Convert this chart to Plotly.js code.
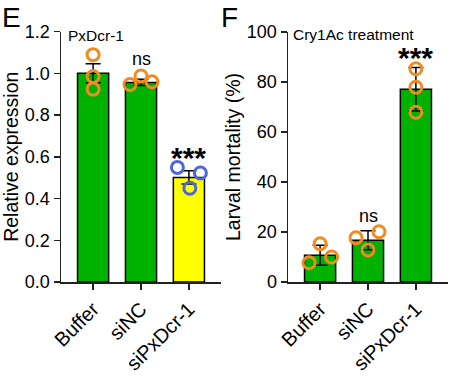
<!DOCTYPE html>
<html>
<head>
<meta charset="utf-8">
<script src="https://cdn.plot.ly/plotly-3.0.1.min.js"></script>
<style>html,body{margin:0;padding:0;background:#fff}#chart{width:461px;height:380px}</style>
</head>
<body>
<div id="chart"></div>
<script>
// ---- data ----
var categories = ["Buffer", "siNC", "siPxDcr-1"];
// Panel E: relative expression of PxDcr-1
var exprMean = [1.00, 0.956, 0.501];
var exprSD = [0.046, 0.015, 0.032];
var exprPoints = [[1.089, 0.984, 0.924], [0.946, 0.987, 0.959], [0.549, 0.522, 0.449]];
var exprJitter = [[0, 0, 0], [-0.23, 0, 0.23], [-0.24, 0.24, 0.02]];
// Panel F: larval mortality (%) after Cry1Ac treatment
var mortMean = [10.7, 16.7, 77.1];
var mortSD = [4.0, 3.8, 8.7];
var mortPoints = [[7.7, 15.3, 10.0], [17.7, 12.8, 20.1], [85.3, 77.9, 67.9]];
var mortJitter = [[-0.23, 0, 0.24], [-0.25, 0, 0.23], [0, 0, 0]];
var exprSig = ["", "ns", "***"];
var mortSig = ["", "ns", "***"];

var GREEN = "#00B200", YELLOW = "#FFFF00", ORANGE = "#F28A22", BLUE = "#4C67DB";
var FONT = "Arial, 'Liberation Sans', sans-serif";
var idx = categories.map(function (c, i) { return i; });

var traces = [];
traces.push({
  type: "bar", x: idx, y: exprMean, xaxis: "x", yaxis: "y", width: 0.65,
  marker: {color: [GREEN, GREEN, YELLOW], line: {color: "#000", width: 1.5}},
  error_y: {type: "data", array: exprSD, visible: true, color: "#000", thickness: 1.5, width: 7.5},
  hoverinfo: "skip", showlegend: false
});
traces.push({
  type: "bar", x: idx, y: mortMean, xaxis: "x2", yaxis: "y2", width: 0.65,
  marker: {color: [GREEN, GREEN, GREEN], line: {color: "#000", width: 1.5}},
  error_y: {type: "data", array: mortSD, visible: true, color: "#000", thickness: 1.5, width: 7.5},
  hoverinfo: "skip", showlegend: false
});
function pts(points, jitter, colors, xa, ya) {
  var xs = [], ys = [], cs = [];
  points.forEach(function (arr, i) {
    arr.forEach(function (v, j) { xs.push(i + jitter[i][j]); ys.push(v); cs.push(colors[i]); });
  });
  return {type: "scatter", mode: "markers", x: xs, y: ys, xaxis: xa, yaxis: ya,
    marker: {symbol: "circle-open", size: 12, color: cs, line: {width: 3, color: cs}},
    hoverinfo: "skip", showlegend: false, cliponaxis: false};
}
traces.push(pts(exprPoints, exprJitter, [ORANGE, ORANGE, BLUE], "x", "y"));
traces.push(pts(mortPoints, mortJitter, [ORANGE, ORANGE, ORANGE], "x2", "y2"));

var axLine = {showline: true, linecolor: "#222", linewidth: 1.5, ticks: "outside", ticklen: 6,
  tickwidth: 1.5, tickcolor: "#222", showgrid: false, zeroline: false,
  tickfont: {family: FONT, size: 18, color: "#000"}};
function xax(dom) {
  return Object.assign({}, axLine, {domain: dom, range: [-0.67, 2.67], tickmode: "array",
    tickvals: idx, ticktext: categories, tickangle: -45, anchor: dom[0] < 0.5 ? "y" : "y2",
    tickfont: {family: FONT, size: 20, color: "#000"}});
}
var layout = {
  width: 461, height: 380, margin: {l: 0, r: 0, t: 0, b: 0},
  paper_bgcolor: "#fff", plot_bgcolor: "#fff", bargap: 0,
  font: {family: FONT, color: "#000"},
  xaxis: xax([61 / 461, 221 / 461]),
  xaxis2: xax([288 / 461, 448 / 461]),
  yaxis: Object.assign({}, axLine, {domain: [1 - 282 / 380, 1 - 31.5 / 380], range: [0, 1.2],
    tickvals: [0, 0.2, 0.4, 0.6, 0.8, 1.0, 1.2], ticktext: ["0.0", "0.2", "0.4", "0.6", "0.8", "1.0", "1.2"],
    anchor: "x", title: {text: "Relative expression", font: {family: FONT, size: 19.5}, standoff: 4}}),
  yaxis2: Object.assign({}, axLine, {domain: [1 - 282 / 380, 1 - 32 / 380], range: [0, 100],
    tickvals: [0, 20, 40, 60, 80, 100], anchor: "x2",
    title: {text: "Larval mortality (%)", font: {family: FONT, size: 19.5}, standoff: 1}}),
  annotations: [
    {text: "E", xref: "paper", yref: "paper", x: 0, y: 1, xanchor: "left", yanchor: "top",
      showarrow: false, font: {family: FONT, size: 28}},
    {text: "F", xref: "paper", yref: "paper", x: 219 / 461, y: 1, xanchor: "left", yanchor: "top",
      showarrow: false, font: {family: FONT, size: 28}},
    {text: "PxDcr-1", xref: "paper", yref: "paper", x: 66 / 461, y: 1 - 36 / 380, xanchor: "left", yanchor: "middle",
      showarrow: false, font: {family: FONT, size: 15.5}},
    {text: "Cry1Ac treatment", xref: "paper", yref: "paper", x: 291 / 461, y: 1 - 34 / 380, xanchor: "left", yanchor: "middle",
      showarrow: false, font: {family: FONT, size: 15.5}},
    {text: exprSig[1], xref: "x", yref: "y", x: 1, y: 1.07, showarrow: false, font: {family: FONT, size: 18}},
    {text: "<b>" + exprSig[2] + "</b>", xref: "x", yref: "y", x: 2, y: 0.595, showarrow: false, font: {family: FONT, size: 30}},
    {text: mortSig[1], xref: "x2", yref: "y2", x: 1, y: 26.5, showarrow: false, font: {family: FONT, size: 18}},
    {text: "<b>" + mortSig[2] + "</b>", xref: "x2", yref: "y2", x: 2, y: 90, showarrow: false, font: {family: FONT, size: 30}}
  ]
};
Plotly.newPlot("chart", traces, layout, {displayModeBar: false, staticPlot: true});
</script>
</body>
</html>
